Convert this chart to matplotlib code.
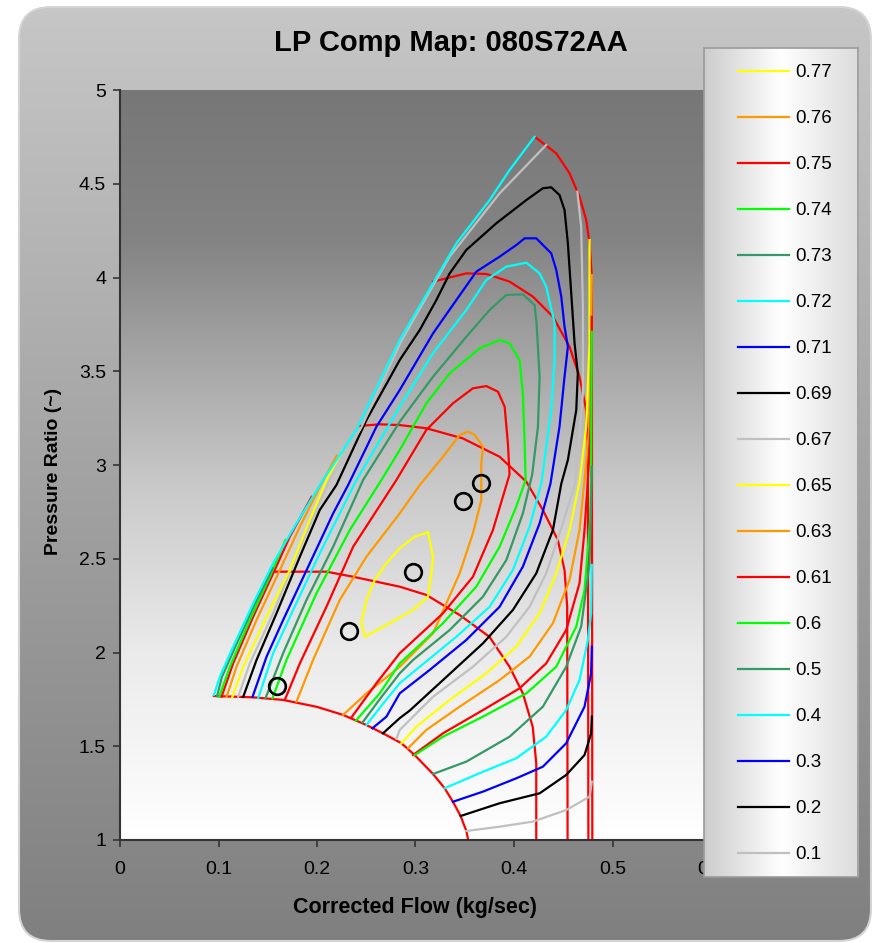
import numpy as np
import matplotlib
matplotlib.use("Agg")
import matplotlib.pyplot as plt
from matplotlib.patches import FancyBboxPatch
from matplotlib.lines import Line2D

plt.rcParams['font.family'] = ['Liberation Sans', 'DejaVu Sans']

# ---------------- data ----------------
x_ticks = [0, 0.1, 0.2, 0.3, 0.4, 0.5, 0.6]
x_tick_labels = ["0", "0.1", "0.2", "0.3", "0.4", "0.5", "0.6"]
y_ticks = [1, 1.5, 2, 2.5, 3, 3.5, 4, 4.5, 5]
y_tick_labels = ["1", "1.5", "2", "2.5", "3", "3.5", "4", "4.5", "5"]

# constant-speed lines
speed_1 = [(0.0953, 1.768), (0.135, 1.761), (0.1657, 1.747), (0.2, 1.71), (0.2265, 1.667), (0.2502, 1.613),
           (0.267, 1.569), (0.2857, 1.516), (0.2992, 1.453), (0.3178, 1.352), (0.3296, 1.276), (0.338, 1.204),
           (0.3458, 1.128), (0.3516, 1.048), (0.3535, 1.0)]
speed_2 = [(0.1538, 2.431), (0.2096, 2.431), (0.2367, 2.404), (0.284, 2.351), (0.311, 2.307), (0.3448, 2.2),
           (0.375, 2.084), (0.3955, 1.924), (0.409, 1.782), (0.419, 1.604), (0.4226, 1.41), (0.4226, 1.0)]
speed_3 = [(0.2427, 3.208), (0.2637, 3.217), (0.284, 3.213), (0.311, 3.196), (0.348, 3.142), (0.3854, 3.044),
           (0.4125, 2.911), (0.4293, 2.76), (0.4445, 2.6), (0.4513, 2.44), (0.454, 2.244), (0.4544, 1.0)]
speed_4 = [(0.3178, 3.978), (0.3516, 4.022), (0.3719, 4.019), (0.3955, 3.978), (0.4192, 3.898), (0.4395, 3.791),
           (0.4564, 3.631), (0.4665, 3.471), (0.4733, 3.293), (0.475, 3.116), (0.4755, 1.0)]
speed_5 = [(0.4209, 4.751), (0.4429, 4.662), (0.4564, 4.556), (0.4665, 4.431), (0.4733, 4.307), (0.4767, 4.182),
           (0.479, 4.004), (0.4795, 1.0)]

# efficiency islands
eff_077 = [(0.3127, 2.641), (0.2992, 2.618), (0.284, 2.556), (0.2705, 2.476), (0.2586, 2.387), (0.2502, 2.28),
           (0.2451, 2.164), (0.2485, 2.084), (0.2738, 2.156), (0.2975, 2.227), (0.3127, 2.298), (0.3161, 2.422),
           (0.3178, 2.511), (0.3127, 2.641)]
eff_076 = [(0.1792, 1.738), (0.196, 1.96), (0.2231, 2.28), (0.2502, 2.511), (0.284, 2.742), (0.3043, 2.893),
           (0.3279, 3.044), (0.3448, 3.16), (0.3533, 3.178), (0.36, 3.16), (0.3685, 3.098), (0.3668, 3.009),
           (0.3668, 2.813), (0.3583, 2.636), (0.3448, 2.422), (0.3178, 2.102), (0.284, 1.924), (0.2502, 1.782),
           (0.2265, 1.667)]
eff_075 = [(0.1673, 1.747), (0.1826, 1.942), (0.2096, 2.244), (0.2367, 2.564), (0.2806, 2.92), (0.311, 3.187),
           (0.338, 3.329), (0.3583, 3.409), (0.3719, 3.421), (0.3837, 3.391), (0.3905, 3.311), (0.3938, 3.116),
           (0.3955, 2.95), (0.3786, 2.653), (0.3583, 2.404), (0.3279, 2.209), (0.284, 1.996), (0.2603, 1.836),
           (0.235, 1.654)]
eff_074 = [(0.1548, 1.756), (0.169, 1.96), (0.1995, 2.316), (0.2333, 2.653), (0.2654, 2.92), (0.284, 3.08),
           (0.311, 3.329), (0.3347, 3.489), (0.3651, 3.622), (0.3854, 3.667), (0.3955, 3.649), (0.4057, 3.56),
           (0.409, 3.382), (0.4108, 3.116), (0.4118, 2.92), (0.4023, 2.778), (0.3854, 2.564), (0.3617, 2.351),
           (0.3279, 2.156), (0.284, 1.942), (0.2637, 1.782), (0.2394, 1.636)]
eff_073 = [(0.1477, 1.756), (0.1656, 1.996), (0.1893, 2.28), (0.2164, 2.564), (0.2468, 2.92), (0.284, 3.231),
           (0.3178, 3.471), (0.3516, 3.684), (0.3753, 3.827), (0.3922, 3.907), (0.409, 3.91), (0.4209, 3.853),
           (0.4229, 3.756), (0.426, 3.471), (0.4243, 3.204), (0.4185, 2.95), (0.409, 2.742), (0.3922, 2.493),
           (0.3685, 2.298), (0.3347, 2.12), (0.2975, 1.96), (0.284, 1.889), (0.265, 1.76), (0.2461, 1.626)]
eff_072 = [(0.1403, 1.756), (0.1555, 1.996), (0.1758, 2.227), (0.2028, 2.529), (0.2265, 2.778), (0.24, 2.92),
           (0.284, 3.311), (0.3178, 3.596), (0.3516, 3.827), (0.3719, 3.987), (0.3922, 4.058), (0.4125, 4.079),
           (0.426, 4.022), (0.4327, 3.951), (0.4412, 3.756), (0.4412, 3.56), (0.4378, 3.293), (0.4277, 2.9),
           (0.4158, 2.671), (0.3989, 2.44), (0.3753, 2.244), (0.3415, 2.084), (0.3043, 1.924), (0.284, 1.836),
           (0.266, 1.72), (0.2502, 1.613)]
eff_071 = [(0.1346, 1.764), (0.1488, 1.978), (0.1656, 2.173), (0.1927, 2.476), (0.2164, 2.742), (0.2316, 2.893),
           (0.2603, 3.204), (0.284, 3.4), (0.3178, 3.702), (0.3415, 3.88), (0.3617, 4.031), (0.3854, 4.111),
           (0.4023, 4.173), (0.4108, 4.209), (0.4226, 4.209), (0.4378, 4.129), (0.4429, 4.04), (0.448, 3.898),
           (0.4513, 3.738), (0.4547, 3.631), (0.4513, 3.471), (0.4462, 3.204), (0.437, 2.9), (0.426, 2.689),
           (0.409, 2.458), (0.3854, 2.244), (0.3516, 2.067), (0.3144, 1.907), (0.284, 1.782), (0.2705, 1.658),
           (0.2563, 1.596)]
eff_069 = [(0.1251, 1.764), (0.1386, 1.96), (0.1589, 2.209), (0.1826, 2.511), (0.2028, 2.76), (0.2197, 2.893),
           (0.2502, 3.24), (0.284, 3.56), (0.3043, 3.72), (0.3212, 3.88), (0.3347, 4.022), (0.3516, 4.147),
           (0.382, 4.289), (0.4125, 4.413), (0.4293, 4.476), (0.4378, 4.481), (0.4462, 4.44), (0.4513, 4.36),
           (0.4547, 4.182), (0.4581, 3.916), (0.4615, 3.649), (0.4648, 3.489), (0.4632, 3.293), (0.4547, 3.027),
           (0.448, 2.9), (0.4395, 2.653), (0.4226, 2.422), (0.3989, 2.227), (0.3685, 2.049), (0.3279, 1.853),
           (0.2941, 1.69), (0.284, 1.65), (0.267, 1.569)]
eff_067_left = [(0.12, 1.764), (0.1318, 1.942), (0.1555, 2.209), (0.1826, 2.564), (0.213, 2.92), (0.245, 3.2),
                (0.2855, 3.66), (0.3347, 4.111), (0.3854, 4.449), (0.4327, 4.707)]
eff_067_right = [(0.4643, 4.458), (0.4682, 4.271), (0.47, 3.827), (0.47, 3.382), (0.462, 2.9), (0.4496, 2.689),
                 (0.4327, 2.422), (0.4158, 2.244), (0.3922, 2.084), (0.3583, 1.924), (0.3178, 1.764),
                 (0.284, 1.587), (0.2806, 1.54)]
eff_065_left = [(0.1139, 1.761), (0.1251, 1.924), (0.1488, 2.191), (0.1724, 2.44), (0.1927, 2.707),
                (0.2096, 2.92), (0.226, 3.08)]
eff_065_right = [(0.4767, 4.2), (0.4767, 3.649), (0.4733, 3.204), (0.4665, 2.91), (0.4564, 2.653),
                 (0.4429, 2.422), (0.426, 2.209), (0.4023, 2.031), (0.3719, 1.889), (0.3347, 1.747),
                 (0.3009, 1.604), (0.2857, 1.516)]
eff_063_left = [(0.1082, 1.764), (0.1183, 1.924), (0.1386, 2.173), (0.1623, 2.44), (0.1826, 2.671),
                (0.2028, 2.884), (0.22, 3.05)]
eff_063_right = [(0.479, 4.013), (0.4785, 3.8), (0.478, 3.5), (0.4765, 3.2), (0.4716, 2.92), (0.4665, 2.653),
                 (0.4564, 2.387), (0.4395, 2.156), (0.4158, 1.978), (0.3854, 1.853), (0.3448, 1.711),
                 (0.311, 1.587), (0.2924, 1.489)]
eff_061_left = [(0.1031, 1.764), (0.1149, 1.942), (0.1352, 2.191), (0.1555, 2.422), (0.1724, 2.618),
                (0.1945, 2.83)]
eff_061_right = [(0.479, 3.79), (0.4787, 3.5), (0.4778, 3.2), (0.475, 2.92), (0.4716, 2.653), (0.4665, 2.369),
                 (0.453, 2.12), (0.4327, 1.942), (0.4057, 1.809), (0.3685, 1.693), (0.3279, 1.569),
                 (0.2975, 1.453)]
eff_060_left = [(0.1007, 1.764), (0.1116, 1.924), (0.1318, 2.173), (0.1521, 2.404), (0.168, 2.6)]
eff_060_right = [(0.479, 3.71), (0.4785, 3.293), (0.4783, 2.92), (0.4774, 2.707), (0.4716, 2.333),
                 (0.4632, 2.138), (0.4429, 1.924), (0.4125, 1.782), (0.3685, 1.658), (0.3279, 1.551),
                 (0.2992, 1.453)]
eff_050_left = [(0.0985, 1.767), (0.1035, 1.87), (0.117, 2.03), (0.137, 2.26), (0.155, 2.45)]
eff_050_right = [(0.479, 2.991), (0.4783, 2.8), (0.4767, 2.476), (0.4682, 2.138), (0.453, 1.924),
                 (0.4293, 1.711), (0.3955, 1.551), (0.3516, 1.418), (0.3178, 1.352)]
eff_040_left = [(0.0953, 1.773), (0.1014, 1.871), (0.1149, 2.031), (0.1352, 2.262), (0.1555, 2.476),
                (0.1792, 2.689), (0.2062, 2.92), (0.24, 3.187), (0.284, 3.667), (0.3178, 3.969),
                (0.3415, 4.182), (0.3753, 4.413), (0.3955, 4.573), (0.4209, 4.751)]
eff_040_right = [(0.479, 2.467), (0.4783, 2.209), (0.475, 2.067), (0.4665, 1.853), (0.453, 1.693),
                 (0.4327, 1.551), (0.4023, 1.436), (0.3685, 1.364), (0.3296, 1.276)]
eff_030_right = [(0.479, 2.031), (0.4783, 1.889), (0.4716, 1.711), (0.453, 1.516), (0.4293, 1.391),
                 (0.4023, 1.329), (0.3685, 1.258), (0.338, 1.204)]
eff_020_right = [(0.479, 1.658), (0.4783, 1.569), (0.4716, 1.453), (0.453, 1.347), (0.426, 1.249),
                 (0.3854, 1.196), (0.3458, 1.128)]
eff_010_right = [(0.479, 1.311), (0.4767, 1.231), (0.453, 1.16), (0.4192, 1.098), (0.3854, 1.071),
                 (0.3516, 1.048)]

# operating points
op_x = [0.1596, 0.2326, 0.2975, 0.3482, 0.3668]
op_y = [1.821, 2.116, 2.431, 2.808, 2.902]

eff_labels = ["0.77", "0.76", "0.75", "0.74", "0.73", "0.72", "0.71", "0.69", "0.67",
              "0.65", "0.63", "0.61", "0.6", "0.5", "0.4", "0.3", "0.2", "0.1"]
eff_colors = ["#FFFF00", "#FF9900", "#FF0000", "#00FF00", "#339966", "#00FFFF", "#0000FF", "#000000", "#C0C0C0",
              "#FFFF00", "#FF9900", "#FF0000", "#00FF00", "#339966", "#00FFFF", "#0000FF", "#000000", "#C0C0C0"]
eff_curves = [[eff_077], [eff_076], [eff_075], [eff_074], [eff_073], [eff_072], [eff_071], [eff_069],
              [eff_067_left, eff_067_right], [eff_065_left, eff_065_right], [eff_063_left, eff_063_right],
              [eff_061_left, eff_061_right], [eff_060_left, eff_060_right], [eff_050_left, eff_050_right],
              [eff_040_left, eff_040_right], [eff_030_right], [eff_020_right], [eff_010_right]]
speed_lines = [speed_1, speed_2, speed_3, speed_4, speed_5]

# ---------------- figure ----------------
W, H = 875, 943
fig = plt.figure(figsize=(W / 100, H / 100), dpi=100)
fig.patch.set_facecolor("white")

# rounded chart-area background with vertical gradient
bg = fig.add_axes([0, 0, 1, 1], zorder=-10)
bg.set_xlim(0, W)
bg.set_ylim(H, 0)
bg.axis("off")
g = np.linspace(0.78, 0.50, 256)
bg_img = np.dstack([np.tile(g[:, None], (1, 2))] * 3)
im = bg.imshow(bg_img, extent=[0, W, H, 0], aspect="auto", interpolation="bilinear")
frame = FancyBboxPatch((19, 7), 852, 934, boxstyle="round,pad=0,rounding_size=32",
                       transform=bg.transData, facecolor="none", edgecolor="#d4d4d4", lw=1.5)
bg.add_patch(frame)
im.set_clip_path(frame)
bg.set_xlim(0, W)
bg.set_ylim(H, 0)

# main plot
ax = fig.add_axes([120 / W, 1 - 840 / H, (711 - 120) / W, (840 - 90) / H])
ax.set_facecolor("none")
frac = np.linspace(0, 1, 256)
shade = np.interp(frac, [0, 0.2, 0.36, 0.53, 0.75, 1.0], [0.467, 0.515, 0.65, 0.79, 0.92, 1.0])
ax_img = np.dstack([np.tile(shade[:, None], (1, 2))] * 3)
ax.imshow(ax_img, extent=[0, 0.6, 1, 5], aspect="auto", zorder=0, interpolation="bilinear")

for s in speed_lines:
    arr = np.array(s)
    ax.plot(arr[:, 0], arr[:, 1], color="#FF0000", lw=1.6, zorder=2, solid_joinstyle="round")

handles = []
for lab, col, curves in zip(eff_labels, eff_colors, eff_curves):
    for c in curves:
        arr = np.array(c)
        ax.plot(arr[:, 0], arr[:, 1], color=col, lw=1.6, zorder=3, solid_joinstyle="round")
    handles.append(Line2D([], [], color=col, lw=1.6))

ax.plot(op_x, op_y, "o", mfc="none", mec="black", ms=12, mew=1.9, zorder=4)

ax.set_xlim(0, 0.6)
ax.set_ylim(1, 5)
ax.set_xticks(x_ticks)
ax.set_xticklabels(x_tick_labels)
ax.set_yticks(y_ticks)
ax.set_yticklabels(y_tick_labels)
ax.tick_params(axis="both", direction="out", length=5, width=1.2, color="#333333", labelsize=14)
ax.tick_params(axis="x", pad=10)
ax.tick_params(axis="y", pad=5)
for side in ["top", "right"]:
    ax.spines[side].set_visible(False)
for side in ["left", "bottom"]:
    ax.spines[side].set_color("#333333")
    ax.spines[side].set_linewidth(1.5)

fig.text(451 / W, 1 - 43 / H, "LP Comp Map: 080S72AA", ha="center", va="center",
         fontsize=21, fontweight="bold")
fig.text(415 / W, 1 - 908 / H, "Corrected Flow (kg/sec)", ha="center", va="center",
         fontsize=15.5, fontweight="bold")
fig.text(54 / W, 1 - 471 / H, "Pressure Ratio (~)", ha="center", va="center",
         rotation=90, fontsize=14, fontweight="bold")

# legend box with horizontal gradient
lax = fig.add_axes([704 / W, 1 - 877 / H, 154 / W, 829 / H], zorder=5)
lx = np.linspace(0, 1, 256)
lshade = np.interp(lx, [0, 0.5, 1.0], [0.80, 1.0, 0.86])
lax.imshow(np.dstack([np.tile(lshade[None, :], (2, 1))] * 3), extent=[0, 1, 0, 1],
           aspect="auto", interpolation="bilinear")
lax.set_xlim(0, 1)
lax.set_ylim(0, 1)
lax.set_xticks([])
lax.set_yticks([])
for sp in lax.spines.values():
    sp.set_color("#9a9a9a")
    sp.set_linewidth(1.2)
lax.legend(handles, eff_labels, loc="upper left", bbox_to_anchor=((738 - 704) / 154, (877 - 64) / 829),
           frameon=False, fontsize=13.5, handlelength=2.7, handletextpad=0.35, labelspacing=1.54,
           borderpad=0, borderaxespad=0)

fig.savefig("out.png", dpi=100)
